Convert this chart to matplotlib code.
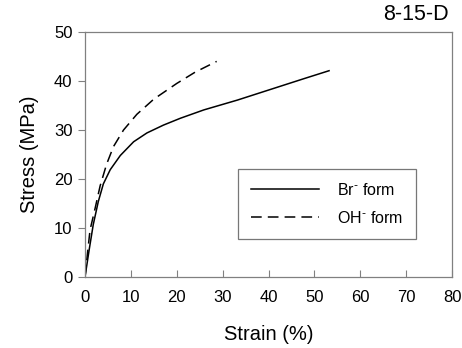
import matplotlib.pyplot as plt

plt.rcParams['font.family'] = ['Liberation Sans', 'DejaVu Sans']

# 数据
br_strain = [0, 0.9, 1.8, 2.9, 4.0, 5.5, 7.7, 10.6, 13.5, 17.1, 20.8, 25.9, 33.2, 40.5, 47.8, 53.2]
br_stress = [0, 5.5, 10.7, 15.4, 19.0, 21.9, 24.8, 27.6, 29.4, 31.0, 32.4, 34.1, 36.1, 38.3, 40.5, 42.1]
oh_strain = [0, 0.5, 1.1, 2.2, 3.3, 4.7, 6.2, 8.4, 11.3, 15, 20, 24, 28.7]
oh_stress = [0, 4.5, 9.6, 14.0, 18.6, 23.0, 26.6, 30.0, 33.2, 36.3, 39.5, 41.8, 44.0]
x_ticks = [0, 10, 20, 30, 40, 50, 60, 70, 80]
y_ticks = [0, 10, 20, 30, 40, 50]

fig = plt.figure(figsize=(4.62, 3.48), dpi=100)
ax = fig.add_axes([85 / 462, 71 / 348, 367 / 462, 245 / 348])

ax.plot(br_strain, br_stress, color='black', lw=1.1, label=r'Br$^{\text{-}}$ form')
ax.plot(oh_strain, oh_stress, color='black', lw=1.1, dashes=(7, 4), label=r'OH$^{\text{-}}$ form')

ax.set_xlim(0, 80)
ax.set_ylim(0, 50)
ax.set_xticks(x_ticks)
ax.set_yticks(y_ticks)
for s in ax.spines.values():
    s.set_color('#808080')
    s.set_linewidth(0.9)
ax.tick_params(axis='x', direction='in', length=5, color='#808080', labelsize=12, pad=9)
ax.tick_params(axis='y', direction='out', length=5, color='#808080', labelsize=12, pad=4)

ax.set_xlabel('Strain (%)', fontsize=14.5, labelpad=15)
ax.set_ylabel('Stress (MPa)', fontsize=14.5, labelpad=11)
fig.text(449 / 462, 1 - 15 / 348, '8-15-D', fontsize=15.5, ha='right', va='center')

leg = ax.legend(loc='upper left', bbox_to_anchor=(238 / 462, 1 - 169 / 348),
                bbox_transform=fig.transFigure, frameon=True, fancybox=False,
                edgecolor='#555555', fontsize=11.5, handlelength=4.3,
                handletextpad=1.1, labelspacing=0.75, borderpad=0.8,
                borderaxespad=0)
leg.get_frame().set_linewidth(0.9)

fig.savefig('out.png', dpi=100)
